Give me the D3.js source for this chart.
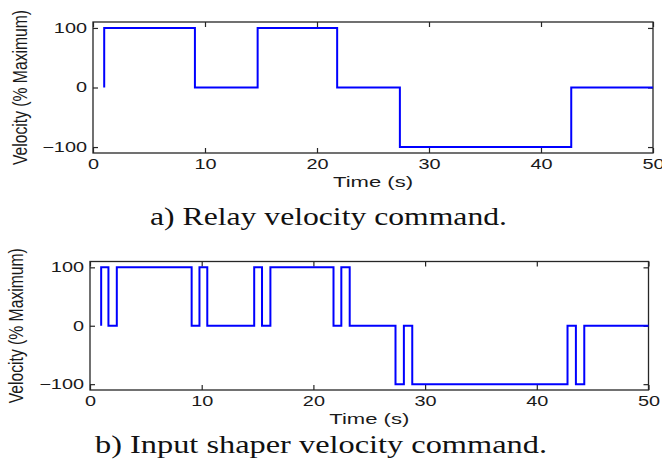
<!DOCTYPE html>
<html>
<head>
<meta charset="utf-8">
<script src="https://cdn.jsdelivr.net/npm/d3@7"></script>
<style>
  body { margin: 0; background: #fff; }
  .tick text { font-family: "Liberation Sans", Arial, sans-serif; font-size: 14px; fill: #1a1a1a; }
  .tick line { stroke: #262626; stroke-width: 1.2; }
</style>
</head>
<body>
<svg id="chart" width="662" height="470"></svg>
<script>
// step breakpoints (time in s, velocity in % of max)
var relayTime     = [1, 1, 9.1, 14.7, 21.8, 27.4, 42.7, 50];
var relayVelocity = [0, 100, 0, 100, 0, -100, 0, 0];

var shaperTime     = [1, 1, 1.65, 2.4, 9.1, 9.8, 10.5, 14.7, 15.4, 16.15,
                      21.8, 22.5, 23.25, 27.35, 28.1, 28.85, 42.75, 43.5, 44.25, 50];
var shaperVelocity = [0, 100, 0, 100, 0, 100, 0, 100, 0, 100,
                      0, 100, 0, -100, 0, -100, 0, -100, 0, 0];

var xTicks = [0, 10, 20, 30, 40, 50];
var yTicks = [-100, 0, 100];
var xDomain = [0, 50];
var yDomain = [-110, 110];

var xLabel = "Time (s)";
var yLabel = "Velocity (% Maximum)";
var captions = ["a) Relay velocity command.", "b) Input shaper velocity command."];

var panels = [
    {time: relayTime, vel: relayVelocity, caption: captions[0],
     left: 93, right: 653, top: 22, bottom: 153, ylabX: 27, capX: 150, capY: 225, capW: 357},
    {time: shaperTime, vel: shaperVelocity, caption: captions[1],
     left: 90, right: 648.5, top: 261.5, bottom: 390, ylabX: 23, capX: 95, capY: 453, capW: 452}
];

var svg = d3.select("#chart");

// the source picture is stretched sideways, so widen the text the same way
var widen = function(sel, k) {
    sel.each(function() {
        var w = this.getComputedTextLength();
        d3.select(this).attr("textLength", w * k).attr("lengthAdjust", "spacingAndGlyphs");
    });
};

var drawPanel = function(p) {
    var x = d3.scaleLinear().domain(xDomain).range([p.left, p.right]);
    var y = d3.scaleLinear().domain(yDomain).range([p.bottom, p.top]);
    var g = svg.append("g");

    var bottomAxis = g.append("g")
        .attr("transform", "translate(0," + p.bottom + ")")
        .call(d3.axisBottom(x).tickValues(xTicks).tickSizeInner(-5).tickSizeOuter(0).tickPadding(6));
    g.append("g")
        .attr("transform", "translate(0," + p.top + ")")
        .call(d3.axisTop(x).tickValues(xTicks).tickSizeInner(-5).tickSizeOuter(0).tickFormat(""));
    var leftAxis = g.append("g")
        .attr("transform", "translate(" + p.left + ",0)")
        .call(d3.axisLeft(y).tickValues(yTicks).tickSizeInner(-5).tickSizeOuter(0).tickPadding(6));
    g.append("g")
        .attr("transform", "translate(" + p.right + ",0)")
        .call(d3.axisRight(y).tickValues(yTicks).tickSizeInner(-5).tickSizeOuter(0).tickFormat(""));
    g.selectAll(".domain").remove();

    widen(bottomAxis.selectAll("text"), 1.42);
    widen(leftAxis.selectAll("text"), 1.42);

    g.append("rect")
        .attr("x", p.left).attr("y", p.top)
        .attr("width", p.right - p.left).attr("height", p.bottom - p.top)
        .attr("fill", "none")
        .attr("stroke", "#262626")
        .attr("stroke-width", 1.3);

    var line = d3.line()
        .x(function(d) { return x(d[0]); })
        .y(function(d) { return y(d[1]); })
        .curve(d3.curveStepAfter);

    g.append("path")
        .datum(d3.zip(p.time, p.vel))
        .attr("d", line)
        .attr("fill", "none")
        .attr("stroke", "#0000ff")
        .attr("stroke-width", 2);

    g.append("text")
        .attr("x", (p.left + p.right) / 2)
        .attr("y", p.bottom + 34)
        .attr("text-anchor", "middle")
        .style("font-family", '"Liberation Sans", Arial, sans-serif')
        .style("font-size", "15px")
        .style("fill", "#1a1a1a")
        .attr("textLength", 80)
        .attr("lengthAdjust", "spacingAndGlyphs")
        .text(xLabel);

    g.append("text")
        .attr("transform", "translate(" + p.ylabX + "," + ((p.top + p.bottom) / 2) + ") scale(1.25,1) rotate(-90)")
        .attr("text-anchor", "middle")
        .style("font-family", '"Liberation Sans", Arial, sans-serif')
        .style("font-size", "16px")
        .style("fill", "#1a1a1a")
        .attr("textLength", 155)
        .attr("lengthAdjust", "spacingAndGlyphs")
        .text(yLabel);

    g.append("text")
        .attr("x", p.capX)
        .attr("y", p.capY)
        .style("font-family", '"Liberation Serif", "Times New Roman", serif')
        .style("font-size", "26px")
        .style("fill", "#111")
        .attr("textLength", p.capW)
        .attr("lengthAdjust", "spacingAndGlyphs")
        .text(p.caption);
};

panels.forEach(drawPanel);
</script>
</body>
</html>
